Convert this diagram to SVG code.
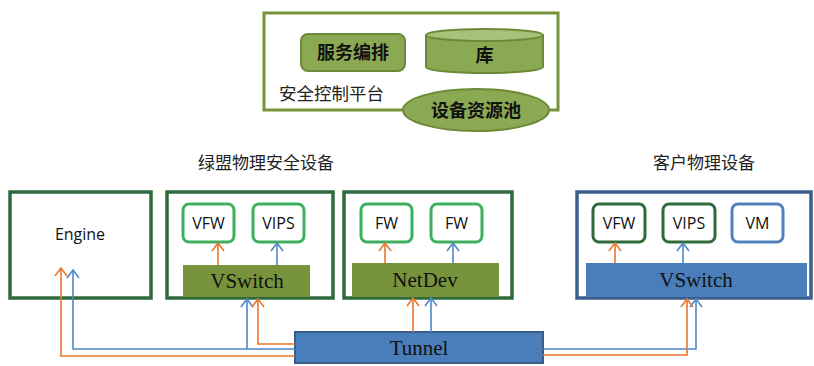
<svg xmlns="http://www.w3.org/2000/svg" width="814" height="366" viewBox="0 0 814 366">
  <style>
    .cjk { font-family: "Noto Sans CJK SC", "Noto Sans", sans-serif; fill: #222; }
    .cjkb { font-family: "Noto Sans CJK SC", "Noto Sans", sans-serif; font-weight: bold; font-size: 18px; fill: #111; }
    .sans { font-family: "Open Sans", "Liberation Sans", sans-serif; font-size: 16px; fill: #111; }
    .serif { font-family: "Liberation Serif", "DejaVu Serif", serif; font-size: 21px; fill: #111; }
    .host { fill: #fff; stroke: #2E6A3B; stroke-width: 3.5; }
    .vm { fill: #fff; stroke: #3DB060; stroke-width: 3; }
    .vmd { fill: #fff; stroke: #2E6A3B; stroke-width: 3; }
    .vmb { fill: #fff; stroke: #4F81BD; stroke-width: 3; }
    .olive { fill: #77933C; }
    .blue { fill: #4A7EBB; }
    .plat { fill: #8BA852; stroke: #6C8A38; stroke-width: 2; }
    .o { fill: none; stroke: #E8772E; stroke-width: 1.6; marker-end: url(#ao); }
    .b { fill: none; stroke: #4F87C6; stroke-width: 1.6; marker-end: url(#ab); }
  </style>
  <defs>
    <marker id="ao" viewBox="0 0 10 14" refX="9" refY="7" markerWidth="10" markerHeight="14" markerUnits="userSpaceOnUse" orient="auto">
      <path d="M1,1 L9,7 L1,13" fill="none" stroke="#E8772E" stroke-width="1.6"/>
    </marker>
    <marker id="ab" viewBox="0 0 10 14" refX="9" refY="7" markerWidth="10" markerHeight="14" markerUnits="userSpaceOnUse" orient="auto">
      <path d="M1,1 L9,7 L1,13" fill="none" stroke="#4F87C6" stroke-width="1.6"/>
    </marker>
  </defs>

  <!-- security control platform -->
  <g id="platform">
    <rect x="264" y="13" width="294" height="97" fill="#fff" stroke="#77933C" stroke-width="3"/>
    <text class="cjk" x="279" y="100" font-size="17.5">安全控制平台</text>
  </g>
  <g id="orchestration">
    <rect class="plat" x="301" y="34" width="104" height="37" rx="7"/>
    <text class="cjkb" x="353" y="59" text-anchor="middle">服务编排</text>
  </g>
  <g id="repository">
    <path class="plat" d="M426,35 L426,67 A58.5,6 0 0 0 543,67 L543,35"/>
    <ellipse cx="484.5" cy="35" rx="58.5" ry="6" fill="#A9C27A" stroke="#6C8A38" stroke-width="2"/>
    <text class="cjkb" x="484.5" y="62" text-anchor="middle">库</text>
  </g>
  <g id="resource-pool">
    <ellipse class="plat" cx="476" cy="110" rx="73" ry="21"/>
    <text class="cjkb" x="476" y="117" text-anchor="middle">设备资源池</text>
  </g>

  <!-- section titles -->
  <text class="cjk" x="266" y="169" font-size="17" text-anchor="middle">绿盟物理安全设备</text>
  <text class="cjk" x="704" y="169" font-size="17" text-anchor="middle">客户物理设备</text>

  <!-- Engine host -->
  <g id="engine">
    <rect class="host" x="10" y="192" width="141" height="106"/>
    <text class="sans" x="80" y="240" text-anchor="middle">Engine</text>
  </g>

  <!-- virtual security host -->
  <g id="vhost">
    <rect class="host" x="167" y="192" width="166" height="106"/>
  </g>
  <g id="vfw1">
    <rect class="vm" x="183" y="204" width="51" height="38" rx="6"/>
    <text class="sans" x="208.5" y="229" text-anchor="middle">VFW</text>
  </g>
  <g id="vips1">
    <rect class="vm" x="253" y="204" width="51" height="38" rx="6"/>
    <text class="sans" x="278.5" y="229" text-anchor="middle">VIPS</text>
  </g>
  <g id="vswitch1">
    <rect class="olive" x="183" y="265" width="127" height="32"/>
    <text class="serif" x="247" y="288" text-anchor="middle">VSwitch</text>
  </g>

  <!-- physical firewall host -->
  <g id="fwhost">
    <rect class="host" x="344" y="192" width="168" height="106"/>
  </g>
  <g id="fw1">
    <rect class="vm" x="361" y="204" width="51" height="38" rx="6"/>
    <text class="sans" x="386.5" y="229" text-anchor="middle">FW</text>
  </g>
  <g id="fw2">
    <rect class="vm" x="431" y="204" width="51" height="38" rx="6"/>
    <text class="sans" x="456.5" y="229" text-anchor="middle">FW</text>
  </g>
  <g id="netdev">
    <rect class="olive" x="352" y="263" width="147" height="34"/>
    <text class="serif" x="425" y="287" text-anchor="middle">NetDev</text>
  </g>

  <!-- customer host -->
  <g id="custhost">
    <rect x="577" y="192" width="234" height="106" fill="#fff" stroke="#3A5F8E" stroke-width="3.5"/>
  </g>
  <g id="vfw2">
    <rect class="vmd" x="593" y="204" width="52" height="38" rx="6"/>
    <text class="sans" x="619" y="229" text-anchor="middle">VFW</text>
  </g>
  <g id="vips2">
    <rect class="vmd" x="663" y="204" width="52" height="38" rx="6"/>
    <text class="sans" x="689" y="229" text-anchor="middle">VIPS</text>
  </g>
  <g id="vm">
    <rect class="vmb" x="732" y="204" width="51" height="38" rx="6"/>
    <text class="sans" x="757.5" y="229" text-anchor="middle">VM</text>
  </g>
  <g id="vswitch2">
    <rect class="blue" x="586" y="263" width="221" height="34"/>
    <text class="serif" x="696" y="287" text-anchor="middle">VSwitch</text>
  </g>

  <!-- tunnel -->
  <g id="tunnel">
    <rect x="295" y="332" width="248" height="31" fill="#4A7EBB" stroke="#385D8A" stroke-width="2"/>
    <text class="serif" x="419" y="355" text-anchor="middle">Tunnel</text>
  </g>

  <!-- traffic paths -->
  <g id="connectors">
    <path class="o" d="M295,356 H61 V268"/>
    <path class="b" d="M295,349 H73 V270"/>
    <path class="b" d="M247,349 V299"/>
    <path class="o" d="M295,344 H258 V299"/>
    <path class="o" d="M413,332 V298"/>
    <path class="b" d="M431,332 V298"/>
    <path class="b" d="M543,349 H696 V299"/>
    <path class="o" d="M543,355 H687 V299"/>
    <path class="o" d="M218,265 V243"/>
    <path class="b" d="M277,265 V243"/>
    <path class="o" d="M385,263 V243"/>
    <path class="b" d="M453,263 V243"/>
    <path class="o" d="M615,263 V243"/>
    <path class="b" d="M683,263 V243"/>
  </g>
</svg>
